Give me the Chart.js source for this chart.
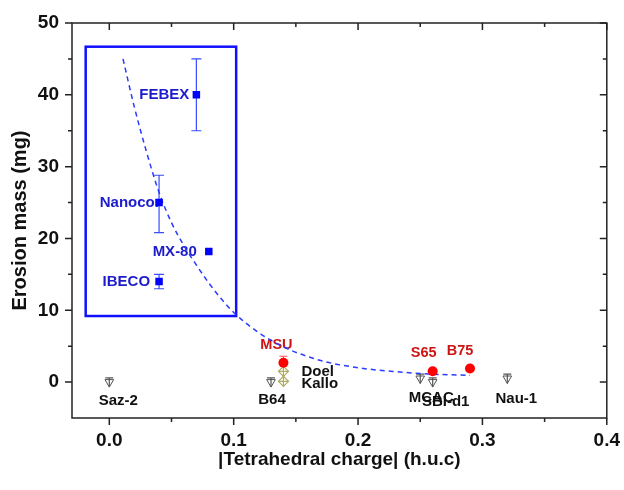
<!DOCTYPE html>
<html>
<head>
<meta charset="utf-8">
<script src="https://cdn.jsdelivr.net/npm/chart.js@4.4.1/dist/chart.umd.min.js"></script>
<style>
  html, body { margin: 0; padding: 0; background: #fff; }
</style>
</head>
<body>
<canvas id="erosionChart" width="624" height="490"></canvas>
<script>
// dashed fit curve
const fitX = [0.011, 0.02, 0.03, 0.04, 0.05, 0.06, 0.07, 0.08, 0.09, 0.10, 0.12, 0.14, 0.17, 0.20, 0.23, 0.26, 0.29];
const fitY = [45, 38.4, 32.0, 26.4, 22.2, 19.0, 16.3, 13.8, 11.6, 9.7, 6.9, 4.9, 3.0, 2.0, 1.45, 1.1, 0.95];

// blue squares (inside the box)
const blueNames = ['FEBEX', 'Nanocor', 'MX-80', 'IBECO'];
const blueX = [0.07, 0.04, 0.08, 0.04];
const blueY = [40, 25, 18.2, 14];
const blueLow = [35, 20.8, 18.2, 13];
const blueHigh = [45, 28.8, 18.2, 15];

// red circles
const redNames = ['MSU', 'S65', 'B75'];
const redX = [0.14, 0.26, 0.29];
const redY = [2.7, 1.5, 1.9];
const redLow = [2.7, 1.5, 1.9];
const redHigh = [3.6, 1.5, 1.9];

// grey open triangles
const greyNames = ['Saz-2', 'B64', 'MCAC', 'SBI-d1', 'Nau-1'];
const greyX = [0, 0.13, 0.25, 0.26, 0.32];
const greyY = [0, 0, 0.5, 0, 0.5];
const greyLow = [-0.7, -0.7, -0.2, -0.7, -0.2];
const greyHigh = [0.6, 0.6, 1.1, 0.6, 1.1];

// olive diamonds
const oliveNames = ['Doel', 'Kallo'];
const oliveX = [0.14, 0.14];
const oliveY = [1.5, 0.1];

// blue frame round the first group
const boxX = [-0.019, 0.102];
const boxY = [9.2, 46.7];

const xTicks = [0, 0.1, 0.2, 0.3, 0.4];
const xMinor = [0.05, 0.15, 0.25, 0.35];
const yTicks = [0, 10, 20, 30, 40, 50];
const yMinor = [5, 15, 25, 35, 45];

// label placement in pixels relative to the marker
const labelPos = {
  'FEBEX': [-7, 0, 'right'], 'Nanocor': [1.5, 0, 'right'], 'MX-80': [-12, 0, 'right'], 'IBECO': [-9, 0, 'right'],
  'MSU': [-7, -18, 'center'], 'S65': [-9, -18, 'center'], 'B75': [-10, -17, 'center'],
  'Saz-2': [9, 19, 'center'], 'B64': [1, 18, 'center'], 'MCAC': [11, 19, 'center'], 'SBI-d1': [13, 20, 'center'], 'Nau-1': [9, 20, 'center'],
  'Doel': [18, 1, 'left'], 'Kallo': [18, 2, 'left']
};

const FONT = "'Liberation Sans', Arial, sans-serif";
Chart.defaults.font.family = FONT;

function pts(xs, ys) {
  return xs.map((x, i) => ({ x: x, y: ys[i] }));
}

function drawBars(ctx, sx, sy, xs, lows, highs, color, cap, bottomCap) {
  ctx.save();
  ctx.strokeStyle = color;
  ctx.lineWidth = 1.2;
  xs.forEach((x, i) => {
    if (lows[i] === highs[i]) return;
    const px = sx.getPixelForValue(x);
    const top = sy.getPixelForValue(highs[i]);
    const bot = sy.getPixelForValue(lows[i]);
    ctx.beginPath();
    ctx.moveTo(px, top); ctx.lineTo(px, bot);
    ctx.moveTo(px - cap, top); ctx.lineTo(px + cap, top);
    if (bottomCap) { ctx.moveTo(px - cap, bot); ctx.lineTo(px + cap, bot); }
    ctx.stroke();
  });
  ctx.restore();
}

function drawLabels(ctx, sx, sy, names, xs, ys, color, size) {
  ctx.save();
  ctx.fillStyle = color;
  ctx.font = 'bold ' + size + 'px ' + FONT;
  ctx.textBaseline = 'middle';
  names.forEach((n, i) => {
    const p = labelPos[n];
    ctx.textAlign = p[2];
    ctx.fillText(n, sx.getPixelForValue(xs[i]) + p[0], sy.getPixelForValue(ys[i]) + p[1]);
  });
  ctx.restore();
}

const decor = {
  id: 'decor',
  beforeDatasetsDraw(chart) {
    const ctx = chart.ctx, sx = chart.scales.x, sy = chart.scales.y;
    // blue box
    ctx.save();
    ctx.strokeStyle = '#1010ff';
    ctx.lineWidth = 2.5;
    const l = sx.getPixelForValue(boxX[0]), r = sx.getPixelForValue(boxX[1]);
    const t = sy.getPixelForValue(boxY[1]), b = sy.getPixelForValue(boxY[0]);
    ctx.strokeRect(l, t, r - l, b - t);
    ctx.restore();

    drawBars(ctx, sx, sy, blueX, blueLow, blueHigh, '#3a4cff', 5, true);
    drawBars(ctx, sx, sy, redX, redLow, redHigh, '#ff5050', 4, false);
    drawBars(ctx, sx, sy, greyX, greyLow, greyHigh, '#555', 4, false);

    drawLabels(ctx, sx, sy, blueNames, blueX, blueY, '#1c1ccc', 15);
    drawLabels(ctx, sx, sy, redNames, redX, redY, '#cc1414', 14.5);
    drawLabels(ctx, sx, sy, greyNames, greyX, greyY, '#111', 15);
    drawLabels(ctx, sx, sy, oliveNames, oliveX, oliveY, '#111', 15);
  },
  afterDraw(chart) {
    const ctx = chart.ctx, sx = chart.scales.x, sy = chart.scales.y, a = chart.chartArea;
    ctx.save();
    ctx.strokeStyle = '#222';
    ctx.lineWidth = 1.5;
    ctx.strokeRect(a.left, a.top, a.right - a.left, a.bottom - a.top);
    ctx.beginPath();
    const tickX = (v, len) => {
      const p = sx.getPixelForValue(v);
      ctx.moveTo(p, a.bottom); ctx.lineTo(p, a.bottom + len);
      ctx.moveTo(p, a.top); ctx.lineTo(p, a.top + len);
    };
    const tickY = (v, len) => {
      const p = sy.getPixelForValue(v);
      ctx.moveTo(a.left - len, p); ctx.lineTo(a.left, p);
      ctx.moveTo(a.right - len, p); ctx.lineTo(a.right, p);
    };
    xTicks.forEach(v => tickX(v, 7));
    xMinor.forEach(v => tickX(v, 4));
    yTicks.forEach(v => tickY(v, 7));
    yMinor.forEach(v => tickY(v, 4));
    ctx.stroke();
    ctx.restore();
  }
};

new Chart(document.getElementById('erosionChart'), {
  type: 'scatter',
  data: {
    datasets: [
      {
        label: 'blue',
        data: pts(blueX, blueY),
        pointStyle: 'rect',
        pointRadius: 5.3,
        backgroundColor: '#0000ff',
        borderColor: '#0000ff',
        borderWidth: 0
      },
      {
        label: 'red',
        data: pts(redX, redY),
        pointStyle: 'circle',
        pointRadius: 5,
        backgroundColor: '#ff0000',
        borderColor: '#ff0000',
        borderWidth: 0
      },
      {
        label: 'olive cross',
        data: pts(oliveX, oliveY),
        pointStyle: 'cross',
        pointRadius: 5,
        borderColor: '#b0ab60',
        borderWidth: 1.2
      },
      {
        label: 'olive',
        data: pts(oliveX, oliveY),
        pointStyle: 'rectRot',
        pointRadius: 5,
        backgroundColor: '#ffffff',
        borderColor: '#b0ab60',
        borderWidth: 1.2
      },
      {
        label: 'grey',
        data: pts(greyX, greyY),
        pointStyle: 'triangle',
        rotation: 180,
        pointRadius: 5,
        backgroundColor: 'rgba(255,255,255,0)',
        borderColor: '#555',
        borderWidth: 1
      },
      {
        label: 'fit',
        type: 'line',
        data: pts(fitX, fitY),
        showLine: true,
        cubicInterpolationMode: 'monotone',
        borderColor: '#2a3cff',
        borderWidth: 1.5,
        borderDash: [5, 4],
        pointRadius: 0,
        fill: false
      }
    ]
  },
  options: {
    responsive: false,
    animation: false,
    devicePixelRatio: 1,
    layout: { padding: { top: 23, right: 15, bottom: 0, left: 0 } },
    plugins: {
      legend: { display: false },
      tooltip: { enabled: false }
    },
    scales: {
      x: {
        type: 'linear',
        min: -0.03,
        max: 0.4,
        afterBuildTicks: s => { s.ticks = xTicks.map(v => ({ value: v })); },
        afterFit: s => { s.height = 72; },
        grid: { drawOnChartArea: false, tickLength: 7, color: 'rgba(0,0,0,0)' },
        border: { display: false },
        ticks: {
          autoSkip: false,
          maxRotation: 0,
          padding: 4,
          color: '#111',
          font: { size: 19, weight: 'bold' },
          callback: v => v.toFixed(1)
        },
        title: {
          display: true,
          text: '|Tetrahedral charge| (h.u.c)',
          color: '#111',
          font: { size: 19, weight: 'bold' },
          padding: { top: 0, bottom: 19 }
        }
      },
      y: {
        type: 'linear',
        min: -5,
        max: 50,
        afterBuildTicks: s => { s.ticks = yTicks.map(v => ({ value: v })); },
        afterFit: s => { s.width = 72; },
        grid: { drawOnChartArea: false, tickLength: 7, color: 'rgba(0,0,0,0)' },
        border: { display: false },
        ticks: {
          padding: 6,
          color: '#111',
          font: { size: 19, weight: 'bold' }
        },
        title: {
          display: true,
          text: 'Erosion mass (mg)',
          color: '#111',
          font: { size: 20, weight: 'bold' },
          padding: { top: 8, bottom: 0 }
        }
      }
    }
  },
  plugins: [decor]
});
</script>
</body>
</html>
